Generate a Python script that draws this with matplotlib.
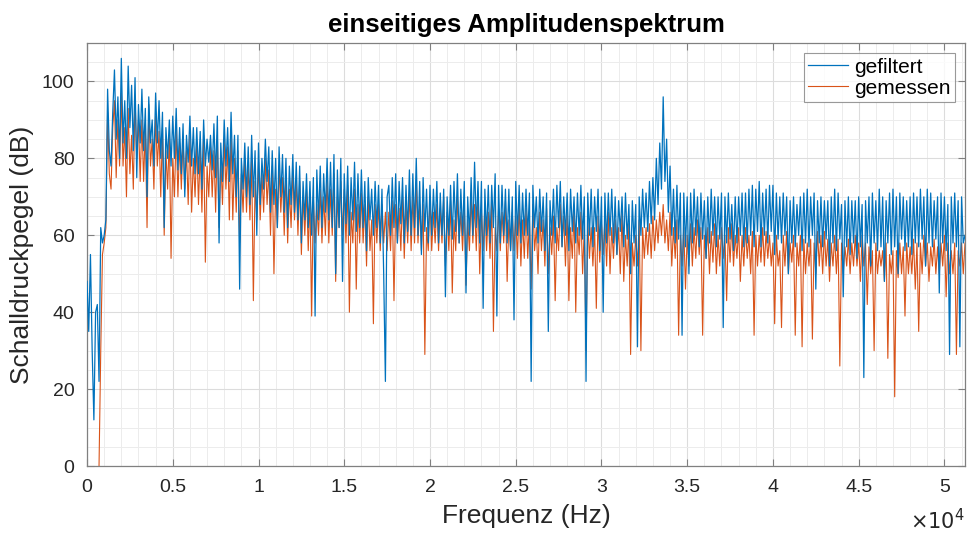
#!/usr/bin/env python3

import numpy as np
import matplotlib
matplotlib.use("Agg")
import matplotlib.pyplot as plt

plt.rcParams['font.family'] = ['Liberation Sans', 'DejaVu Sans']

# Frequency bins (Hz), 100 Hz spacing up to 51.2 kHz
freq_step = 100
freq_max = 51200

# Sound pressure level (dB), one value per bin (16 bins per row)
gefiltert = [
    48, 35, 55, 30, 12, 40, 42, 22, 62, 58, 60, 64, 98, 82, 78, 92,
    103, 85, 96, 80, 106, 84, 95, 80, 104, 88, 99, 82, 101, 75, 94, 84,
    98, 82, 93, 70, 96, 84, 90, 78, 97, 84, 95, 80, 92, 62, 88, 80,
    90, 78, 91, 80, 93, 77, 88, 76, 89, 70, 86, 79, 91, 78, 88, 76,
    88, 76, 87, 72, 90, 78, 85, 79, 86, 77, 89, 75, 91, 58, 84, 74,
    90, 78, 88, 74, 92, 76, 86, 70, 86, 46, 80, 72, 84, 70, 83, 68,
    86, 70, 82, 60, 84, 68, 80, 72, 85, 74, 83, 66, 82, 68, 80, 62,
    83, 70, 81, 66, 80, 62, 78, 68, 81, 66, 79, 64, 78, 58, 74, 64,
    76, 62, 74, 60, 75, 39, 77, 64, 78, 62, 76, 66, 80, 64, 79, 62,
    81, 50, 77, 62, 80, 48, 76, 63, 78, 60, 75, 64, 79, 61, 76, 62,
    77, 62, 74, 56, 75, 64, 72, 60, 74, 62, 73, 58, 72, 50, 22, 70,
    73, 60, 75, 62, 76, 58, 74, 63, 75, 58, 73, 61, 77, 60, 76, 62,
    80, 60, 74, 55, 75, 61, 72, 58, 73, 60, 72, 62, 74, 58, 71, 60,
    72, 44, 70, 60, 73, 59, 74, 61, 76, 58, 72, 60, 74, 45, 70, 60,
    75, 60, 79, 62, 74, 58, 74, 41, 72, 60, 73, 58, 73, 62, 76, 39,
    73, 58, 73, 60, 72, 58, 72, 56, 70, 38, 74, 60, 73, 58, 71, 60,
    72, 60, 71, 22, 73, 62, 70, 58, 72, 61, 70, 56, 71, 35, 69, 60,
    72, 58, 73, 62, 74, 57, 70, 60, 71, 56, 72, 61, 70, 58, 71, 60,
    73, 59, 70, 22, 71, 60, 72, 57, 70, 61, 72, 56, 70, 40, 71, 58,
    71, 60, 72, 58, 70, 55, 69, 61, 70, 57, 71, 59, 68, 50, 69, 58,
    68, 31, 70, 60, 72, 62, 71, 61, 74, 63, 75, 64, 80, 68, 84, 72,
    96, 74, 85, 66, 78, 60, 72, 58, 73, 59, 71, 34, 71, 57, 70, 50,
    71, 58, 72, 60, 70, 57, 71, 59, 69, 54, 70, 58, 72, 60, 70, 57,
    70, 59, 71, 36, 70, 58, 71, 59, 68, 56, 70, 58, 70, 60, 71, 57,
    71, 58, 72, 60, 73, 57, 72, 61, 74, 57, 71, 60, 72, 58, 73, 61,
    73, 55, 71, 59, 70, 58, 71, 60, 70, 50, 69, 58, 70, 57, 68, 60,
    70, 56, 71, 58, 72, 57, 70, 60, 71, 46, 69, 58, 70, 57, 69, 59,
    69, 52, 70, 58, 72, 56, 71, 59, 68, 44, 69, 57, 70, 55, 69, 58,
    69, 54, 70, 57, 68, 23, 69, 58, 70, 52, 71, 58, 69, 56, 72, 57,
    70, 48, 69, 58, 71, 55, 72, 57, 70, 50, 71, 59, 70, 56, 69, 57,
    70, 55, 71, 58, 70, 57, 72, 59, 70, 52, 72, 58, 71, 57, 69, 59,
    70, 45, 71, 58, 70, 56, 68, 29, 70, 58, 71, 57, 69, 31, 70, 58,
    60,
]

gemessen = [
    np.nan, np.nan, np.nan, np.nan, np.nan, np.nan, np.nan, 0, 30, 55, 58, 62, 92, 76, 72, 88,
    95, 75, 90, 78, 97, 78, 88, 70, 93, 76, 86, 72, 96, 80, 90, 74,
    90, 74, 88, 62, 94, 78, 85, 72, 91, 78, 87, 70, 88, 60, 82, 72,
    86, 54, 80, 70, 88, 70, 84, 72, 85, 72, 82, 68, 86, 66, 80, 70,
    84, 68, 82, 66, 86, 53, 78, 70, 83, 70, 82, 66, 86, 62, 80, 68,
    85, 72, 83, 64, 87, 64, 80, 66, 82, 58, 76, 66, 80, 66, 78, 64,
    80, 43, 74, 64, 79, 64, 76, 66, 80, 68, 77, 60, 78, 50, 72, 62,
    78, 66, 75, 60, 76, 58, 72, 62, 77, 64, 74, 60, 74, 55, 70, 60,
    72, 56, 70, 39, 70, 58, 68, 60, 72, 58, 70, 60, 75, 58, 72, 60,
    76, 48, 70, 62, 74, 60, 72, 58, 73, 40, 66, 58, 72, 46, 68, 58,
    71, 58, 68, 52, 70, 56, 64, 37, 68, 58, 68, 56, 68, 58, 66, 56,
    66, 56, 69, 43, 68, 58, 67, 56, 70, 54, 68, 58, 71, 56, 70, 58,
    74, 58, 68, 56, 68, 29, 62, 56, 70, 56, 66, 58, 68, 56, 67, 58,
    70, 52, 66, 56, 69, 45, 64, 56, 70, 58, 66, 56, 68, 47, 64, 56,
    70, 58, 68, 56, 71, 50, 66, 56, 68, 56, 66, 54, 69, 35, 62, 56,
    67, 56, 66, 58, 69, 48, 64, 56, 66, 56, 65, 54, 68, 52, 64, 54,
    67, 54, 64, 46, 68, 56, 62, 50, 66, 56, 64, 52, 67, 50, 62, 55,
    65, 43, 62, 56, 68, 57, 65, 52, 66, 43, 62, 54, 67, 40, 62, 55,
    66, 50, 62, 30, 64, 54, 62, 52, 62, 41, 65, 53, 63, 55, 64, 52,
    66, 50, 62, 54, 64, 55, 62, 50, 66, 48, 60, 52, 63, 29, 58, 52,
    60, 52, 64, 30, 62, 54, 62, 55, 63, 54, 65, 56, 64, 58, 66, 60,
    68, 58, 64, 56, 66, 52, 62, 54, 64, 34, 60, 52, 62, 46, 60, 52,
    63, 52, 62, 54, 64, 55, 62, 34, 60, 54, 62, 50, 61, 53, 63, 50,
    60, 52, 62, 54, 60, 43, 62, 53, 63, 52, 60, 54, 62, 48, 60, 52,
    62, 54, 60, 50, 61, 34, 60, 52, 60, 53, 62, 52, 61, 54, 60, 52,
    58, 37, 60, 52, 56, 36, 60, 52, 61, 50, 58, 53, 60, 34, 58, 52,
    60, 31, 59, 50, 58, 52, 59, 33, 58, 50, 61, 52, 60, 50, 61, 52,
    59, 48, 58, 52, 60, 50, 59, 26, 58, 50, 57, 52, 59, 50, 58, 52,
    60, 52, 58, 48, 60, 52, 58, 42, 57, 50, 56, 30, 58, 50, 56, 52,
    56, 48, 58, 28, 55, 50, 56, 18, 56, 49, 58, 50, 57, 39, 58, 50,
    57, 50, 59, 46, 58, 35, 58, 50, 60, 52, 58, 48, 57, 52, 59, 50,
    57, 50, 58, 52, 60, 44, 58, 50, 56, 50, 58, 29, 56, 52, 58, 50,
    58,
]

xtick_values = [0, 5000, 10000, 15000, 20000, 25000, 30000, 35000, 40000, 45000, 50000]
xtick_labels = ['0', '0.5', '1', '1.5', '2', '2.5', '3', '3.5', '4', '4.5', '5']
ytick_values = [0, 20, 40, 60, 80, 100]

freq = np.arange(len(gefiltert)) * freq_step

fig = plt.figure(figsize=(9.68, 5.37), dpi=100)
ax = fig.add_axes([0.0899, 0.1322, 0.907, 0.7877])

# MATLAB default colours; the filtered trace dominates the band, so draw it on top
ax.plot(freq, gefiltert, color='#0072BD', linewidth=0.9, label='gefiltert', zorder=3)
ax.plot(freq[:len(gemessen)], gemessen, color='#D95319', linewidth=0.8, label='gemessen',
        zorder=2)

ax.set_xlim(0, freq_max)
ax.set_ylim(0, 110)

ax.set_xticks(xtick_values)
ax.set_xticklabels(xtick_labels)
ax.set_yticks(ytick_values)
ax.set_xticks(np.arange(0, freq_max + 1, 1000), minor=True)
ax.set_yticks(np.arange(0, 111, 5), minor=True)

ax.grid(True, which='major', color='#dcdcdc', linewidth=0.8)
ax.grid(True, which='minor', color='#ececec', linewidth=0.7)
ax.set_axisbelow(True)

ax.tick_params(which='major', direction='in', top=True, right=True, length=5,
               color='#808080', labelsize=14, labelcolor='#262626', pad=9)
ax.tick_params(which='minor', length=0)
for spine in ax.spines.values():
    spine.set_color('#808080')
    spine.set_linewidth(0.9)

ax.set_title('einseitiges Amplitudenspektrum', fontsize=18.5, fontweight='bold', pad=8)
ax.set_xlabel('Frequenz (Hz)', fontsize=19, color='#262626', labelpad=6)
ax.set_ylabel('Schalldruckpegel (dB)', fontsize=19, color='#262626', labelpad=6)
ax.text(1.0, -0.128, r'$\times10^4$', transform=ax.transAxes, ha='right', va='center',
        fontsize=15, color='#262626')

leg = ax.legend(loc='upper right', fontsize=15, frameon=True, fancybox=False,
                handlelength=1.9, handletextpad=0.3, borderpad=0.2, labelspacing=0.1,
                borderaxespad=0.5)
leg.set_zorder(5)
leg.get_frame().set_edgecolor('#808080')
leg.get_frame().set_linewidth(0.8)

plt.savefig('out.png', dpi=100)
plt.close()
